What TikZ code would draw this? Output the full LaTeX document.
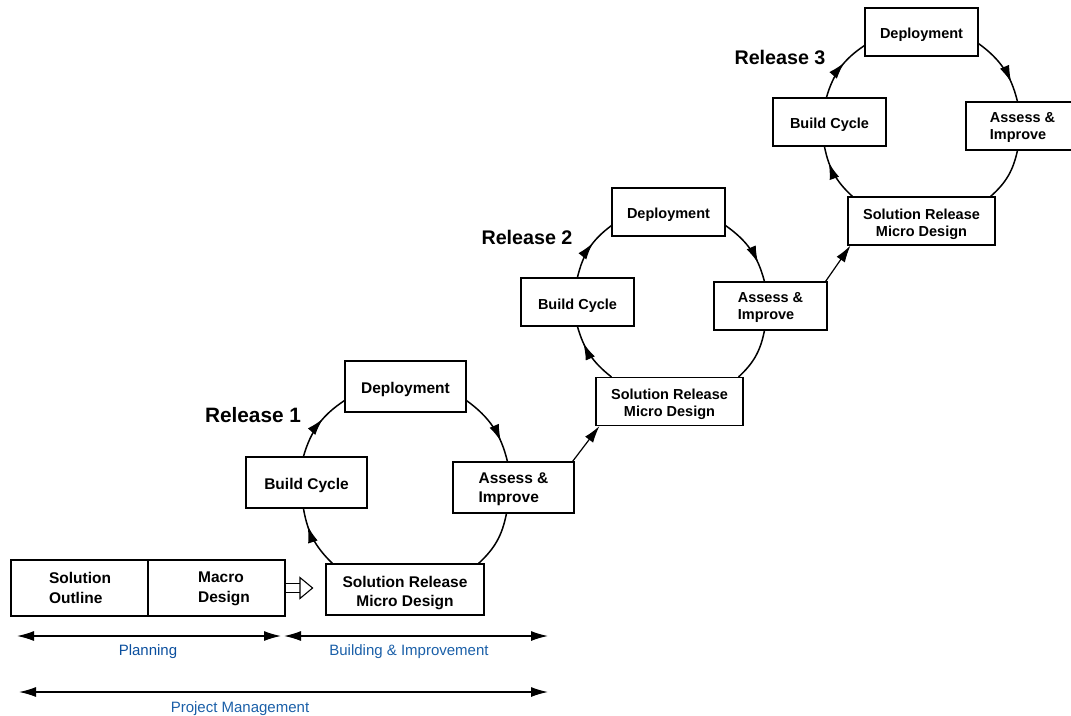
\documentclass[tikz,border=0pt]{standalone}
\usepackage{fontspec}
\setmainfont{Liberation Sans}
\usetikzlibrary{arrows.meta,decorations.markings,calc}
\definecolor{lblblue}{HTML}{1A5FA8}
\definecolor{lbldark}{HTML}{0B4F9E}
\tikzset{
  x=1pt,y=-1pt,
  ln/.style={line width=1.5pt,black},
  head/.style={-{Latex[length=17pt,width=10pt]}},
  both/.style={line width=1.3pt,{Latex[length=17pt,width=10pt]}-{Latex[length=17pt,width=10pt]}},
  box/.style={draw,line width=1.1pt,fill=white,inner sep=0pt,align=center,text height=17pt,font=\bfseries\fontsize{14.5}{17}\selectfont},
  bigbox/.style={box,font=\bfseries\fontsize{15.5}{19}\selectfont},
  arcmark/.style={postaction={decorate,decoration={markings,mark=at position #1 with {\arrow{Latex[length=17pt,width=10pt]}}}}},
  rel/.style={font=\bfseries\fontsize{#1}{#1}\selectfont},
  lbl/.style={text=lblblue,font=\fontsize{15}{18}\selectfont,inner sep=0pt},
  planbox/.style={bigbox,minimum width=137pt,minimum height=56pt,align=left,text height=32pt,font=\bfseries\fontsize{15.5}{20}\selectfont},
}
\begin{document}
\begin{tikzpicture}
\useasboundingbox (0,0) rectangle (1071,715);
% planning boxes
\node[planbox] (outl) at (79.5,588) {\hspace*{1pt}Solution\\\hspace*{1pt}Outline};
\node[planbox] (macro) at (216.5,588) {\hspace*{15pt}Macro\\\hspace*{15pt}Design};
% release 1
\begin{scope}[every node/.append style={bigbox,minimum width=121pt,minimum height=51pt}]
\node (dep1) at (405.5,386.5) {Deployment};
\node (bld1) at (306.5,482.5) {Build Cycle};
\node[align=left,text height=33pt] (ass1) at (513.5,487.5) {Assess \&\\Improve};
\node[minimum width=158pt,text height=37pt] (sr1) at (405,589.5) {Solution Release\\Micro Design};
\end{scope}
% release 2
\begin{scope}[every node/.append style={box,minimum width=113pt,minimum height=48pt}]
\node (dep2) at (668.5,212) {Deployment};
\node (bld2) at (577.5,302) {Build Cycle};
\node[align=left,text height=30.6pt] (ass2) at (770.5,306) {Assess \&\\Improve};
\node[minimum width=147pt,text height=33.6pt] (sr2) at (669.5,401.5) {Solution Release\\Micro Design};
% release 3
\node (dep3) at (921.5,32) {Deployment};
\node (bld3) at (829.5,122) {Build Cycle};
\node[align=left,text height=29.6pt] (ass3) at (1022.5,126) {Assess \&\\Improve};
\node[minimum width=147pt,text height=33.6pt] (sr3) at (921.5,221) {Solution Release\\Micro Design};
\end{scope}
% labels
\node[rel=20.8] (r1) at (253,415) {Release 1};
\node[rel=19.7] (r2) at (527,237) {Release 2};
\node[rel=19.7] (r3) at (780,57) {Release 3};
% hollow arrow
\draw[line width=1.1pt,double,double distance=8.5pt,shorten >=12pt,-{Triangle[open,fill=white,length=14pt,width=23pt,line width=1.1pt]}] (macro.east) -- (macro.east -| sr1.west);
% release 1 arcs
\draw[ln,arcmark=.72] ([yshift=12pt]dep1.south east) to[bend left=20] ([xshift=55pt]ass1.north west);
\draw[ln] ([xshift=54pt]ass1.south west) to[bend left=18] ([xshift=-6pt]sr1.north east);
\draw[ln,arcmark=.72] ([xshift=7pt]sr1.north west) to[bend left=18] ([xshift=58pt]bld1.south west);
\draw[ln,arcmark=.6] ([xshift=58pt]bld1.north west) to[bend left=20] ([yshift=12pt]dep1.south west);
% release 2 arcs
\draw[ln,arcmark=.72] ([yshift=11pt]dep2.south east) to[bend left=20] ([xshift=51pt]ass2.north west);
\draw[ln] ([xshift=51pt]ass2.south west) to[bend left=18] ([xshift=-5pt]sr2.north east);
\draw[ln,arcmark=.72] ([xshift=16pt]sr2.north west) to[bend left=18] ([xshift=57pt]bld2.south west);
\draw[ln,arcmark=.6] ([xshift=57pt]bld2.north west) to[bend left=20] ([yshift=11pt]dep2.south west);
% release 3 arcs
\draw[ln,arcmark=.72] ([yshift=13pt]dep3.south east) to[bend left=20] ([xshift=52pt]ass3.north west);
\draw[ln] ([xshift=52pt]ass3.south west) to[bend left=18] ([xshift=-5pt]sr3.north east);
\draw[ln,arcmark=.72] ([xshift=5pt]sr3.north west) to[bend left=18] ([xshift=52pt]bld3.south west);
\draw[ln,arcmark=.6] ([xshift=54pt]bld3.north west) to[bend left=20] ([yshift=11pt]dep3.south west);
% inter-release links
\draw[line width=1.2pt,head] ([xshift=-2pt]ass1.north east) -- ([xshift=4pt]sr2.south west);
\draw[line width=1.2pt,head] ([xshift=-2pt]ass2.north east) -- ([xshift=3pt]sr3.south west);
% timeline
\coordinate (pa) at (17,636); \coordinate (pb) at (281,636);
\coordinate (ba) at (284,636); \coordinate (bb) at (548,636);
\coordinate (ma) at (19,692); \coordinate (mb) at (548,692);
\draw[both] (pa) -- (pb);
\draw[both] (ba) -- (bb);
\draw[both] (ma) -- (mb);
\node[lbl,text=lbldark] (lp) at (148,652) {Planning};
\node[lbl] (lb) at (409,652) {Building \& Improvement};
\node[lbl] (lm) at (240,709) {Project Management};
\end{tikzpicture}
\end{document}
